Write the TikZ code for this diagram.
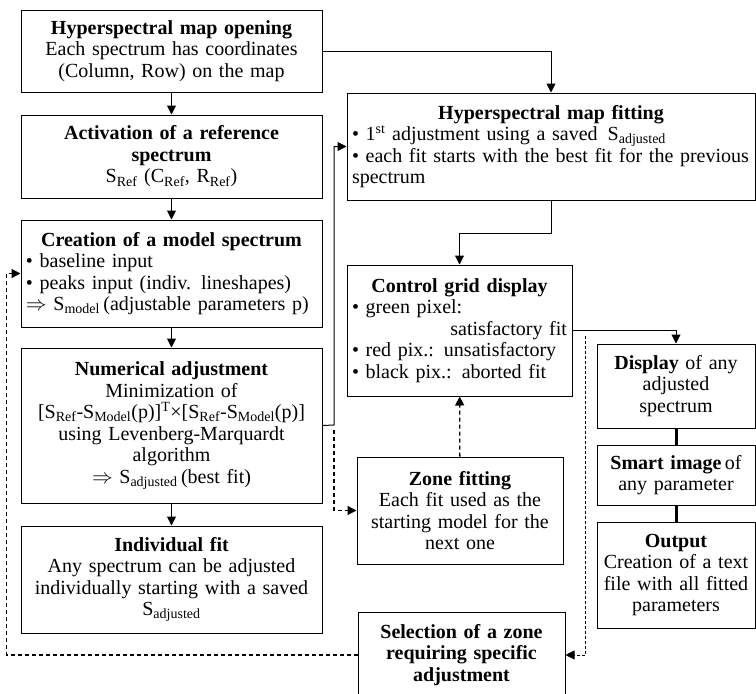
\documentclass[tikz,border=0pt]{standalone}
\usepackage{fontspec}
\setmainfont{Liberation Serif}
\usepackage{tikz}
\usetikzlibrary{arrows.meta}
\setlength{\parindent}{0pt}

\begin{document}
\begin{tikzpicture}[x=1pt,y=-1pt,
  box/.style={draw, line width=1pt, inner xsep=5pt, inner ysep=2pt, align=center,
    font=\fontsize{20}{21.5}\selectfont},
  listbox/.style={box, align=left},
  flow/.style={line width=1pt, -{Triangle[length=9pt,width=9pt]}},
  loopflow/.style={flow, line width=1.3pt, dash pattern=on 4pt off 3pt},
  fineflow/.style={line width=0.7pt, dash pattern=on 3pt off 2pt, -{Triangle[length=9pt,width=9pt]}},
  link/.style={line width=3pt}]
  \useasboundingbox (0,0) rectangle (756,694);

  % left column
  \node[box, minimum width=301, minimum height=82, text width=291] (open) at (171.5,51)
    {\textbf{Hyperspectral map opening}\\Each spectrum has coordinates\\(Column, Row) on the map};
  \node[box, minimum width=301, minimum height=83, text width=291] (activ) at (171.5,156.5)
    {\textbf{Activation of a reference}\\\textbf{spectrum}\\S\textsubscript{Ref} (C\textsubscript{Ref}, R\textsubscript{Ref})};
  \node[listbox, minimum width=301, minimum height=107, text width=291] (create) at (171.5,273.5)
    {\hfill\textbf{Creation of a model spectrum}\hfill\null\\• baseline input\\• peaks input (indiv. lineshapes)\\$\Rightarrow$ S\textsubscript{model}\,(adjustable parameters p)};
  \node[box, minimum width=301, minimum height=155, text width=291] (numer) at (171.5,425.5)
    {\textbf{Numerical adjustment}\\Minimization of\\{}[S\textsubscript{Ref}-S\textsubscript{Model}(p)]\textsuperscript{T}×[S\textsubscript{Ref}-S\textsubscript{Model}(p)]\\using Levenberg-Marquardt\\algorithm\\$\Rightarrow$ S\textsubscript{adjusted}\,(best fit)};
  \node[box, minimum width=301, minimum height=107, text width=291] (indiv) at (171.5,579.5)
    {\textbf{Individual fit}\\Any spectrum can be adjusted\\individually starting with a saved\\S\textsubscript{adjusted}};

  % middle and right
  \node[listbox, minimum width=408, minimum height=107, text width=398] (fitting) at (551,146.5)
    {\hfill\textbf{Hyperspectral map fitting}\hfill\null\\• 1\textsuperscript{st} adjustment using a saved \,S\textsubscript{adjusted}\\• each fit starts with the best fit for the previous\\spectrum};
  \node[listbox, minimum width=225, minimum height=131, text width=215] (control) at (459.5,330.5)
    {\hfill\textbf{Control grid display}\hfill\null\\• green pixel:\\\mbox{}\hfill satisfactory fit\\• red pix.: unsatisfactory\\• black pix.: aborted fit};
  \node[box, minimum width=206, minimum height=107, text width=196] (zone) at (460,510.5)
    {\textbf{Zone fitting}\\Each fit used as the\\starting model for the\\next one};
  \node[box, minimum width=207, minimum height=86, text width=197, font=\fontsize{20}{21.5}\selectfont\bfseries] (select) at (461.5,655)
    {Selection of a zone\\requiring specific\\adjustment};
  \node[box, minimum width=158, minimum height=84, text width=148] (display) at (676,386)
    {\textbf{Display} of any\\adjusted\\spectrum};
  \node[box, minimum width=158, minimum height=60, text width=148] (smart) at (676,475)
    {\textbf{Smart image}\,of\\any parameter};
  \node[box, minimum width=158, minimum height=106, text width=148] (output) at (676,575)
    {\textbf{Output}\\Creation of a text\\file with all fitted\\parameters};

  \coordinate (split) at (334,425);

  % connectors
  \draw[flow] (open) -- (activ);
  \draw[flow] (activ) -- (create);
  \draw[flow] (create) -- (numer);
  \draw[flow] (numer) -- (indiv);
  \draw[flow] (open.east) -| (fitting.north);
  \draw[flow] (numer.east) -- (split) |- (fitting.west);
  \draw[flow] (fitting.south) -- ++(0,33) -| (control.north);
  \draw[flow] (control.east) -| (display.north);
  \draw[link] (display) -- (smart);
  \draw[link] (smart) -- (output);
  \draw[loopflow] ([yshift=-5pt]split) |- (zone.west);
  \draw[loopflow] (zone) -- (control);
  \draw[fineflow] ([xshift=13pt,yshift=-5pt]control.east) |- (select.east);
  \draw[loopflow] (select.west) -- ++(-351,0) |- (create.west);
\end{tikzpicture}
\end{document}
